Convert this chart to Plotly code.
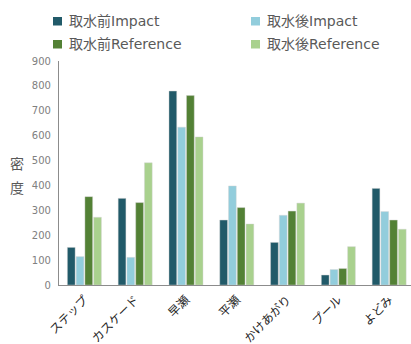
import plotly.graph_objects as go

# 生息場所ごとの密度（取水前後・Impact/Reference）
categories = ["ステップ", "カスケード", "早瀬", "平瀬", "かけあがり", "プール", "よどみ"]
before_impact = [151, 348, 779, 261, 171, 40, 388]
after_impact = [114, 111, 634, 398, 280, 62, 295]
before_reference = [355, 331, 761, 311, 297, 66, 261]
after_reference = [272, 491, 595, 245, 329, 154, 224]
y_ticks = [0, 100, 200, 300, 400, 500, 600, 700, 800, 900]

series_names = ["取水前Impact", "取水後Impact", "取水前Reference", "取水後Reference"]
series_values = [before_impact, after_impact, before_reference, after_reference]
series_colors = ["#215a69", "#92cddc", "#538135", "#a9d18e"]

W, H = 411, 344
M_L, M_R, M_T, M_B = 59, 0, 61, 59
font_cjk = "Noto Sans CJK JP, sans-serif"
font_latin = "DejaVu Sans, Noto Sans CJK JP, sans-serif"


def px_x(px):
    """ピクセル位置 → paper 座標 (x)"""
    return (px - M_L) / (W - M_L - M_R)


def px_y(py):
    """ピクセル位置 → paper 座標 (y, 上からの距離)"""
    return (H - M_B - py) / (H - M_T - M_B)


fig = go.Figure()
for name, values, color in zip(series_names, series_values, series_colors):
    fig.add_trace(go.Bar(
        x=categories, y=values, name=name,
        marker=dict(color=color, line=dict(color="rgba(210,210,210,0.7)", width=0.6)),
    ))

# 2列2行の凡例（色付きの四角＋ラベル）
legend_slots = [(53, 17), (251, 17), (53, 40), (251, 40)]
shapes, annotations = [], []
for (mx, my), name, color in zip(legend_slots, series_names, series_colors):
    shapes.append(dict(
        type="rect", xref="paper", yref="paper",
        x0=px_x(mx), x1=px_x(mx + 9), y0=px_y(my + 8.5), y1=px_y(my),
        fillcolor=color, line=dict(width=0),
    ))
    annotations.append(dict(
        text=name, xref="paper", yref="paper", x=px_x(mx + 14), y=px_y(my + 3.5),
        xanchor="left", yanchor="middle", showarrow=False,
        font=dict(family=font_latin, size=14, color="#595959"),
    ))

# 縦書きの軸タイトル「密度」
for ch, cy in (("密", 163), ("度", 187)):
    annotations.append(dict(
        text=ch, xref="paper", yref="paper", x=px_x(17), y=px_y(cy),
        xanchor="center", yanchor="middle", showarrow=False,
        font=dict(family=font_cjk, size=14, color="#595959"),
    ))

fig.update_layout(
    width=W, height=H,
    margin=dict(l=M_L, r=M_R, t=M_T, b=M_B, autoexpand=False),
    paper_bgcolor="white", plot_bgcolor="white",
    barmode="group", bargap=0.31, bargroupgap=0.12,
    showlegend=False,
    xaxis=dict(
        range=[-0.5, 6.43], tickangle=-45,
        tickfont=dict(family=font_cjk, size=12, color="#262626"),
        showline=True, linecolor="#8c8c8c", linewidth=1.2,
        showgrid=False, ticks="outside", ticklen=2, tickcolor="rgba(0,0,0,0)",
    ),
    yaxis=dict(
        range=[0, 900], tickvals=y_ticks,
        tickfont=dict(family="DejaVu Sans, sans-serif", size=10, color="#808080"),
        showline=True, linecolor="#8c8c8c", linewidth=1.2,
        showgrid=False, zeroline=False, ticks="", ticklabelstandoff=5,
    ),
    shapes=shapes,
    annotations=annotations,
)

fig.write_html("out.html")
